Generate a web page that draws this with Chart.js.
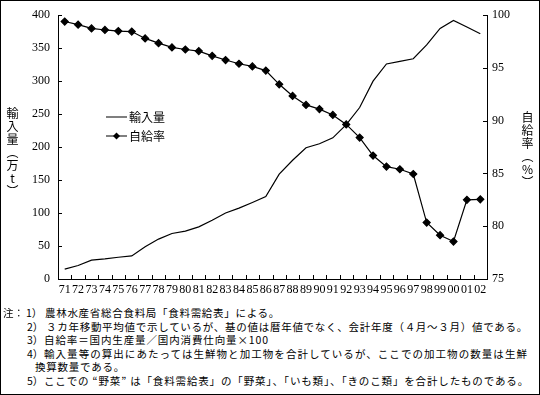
<!DOCTYPE html>
<html>
<head>
<meta charset="utf-8">
<script src="https://cdn.jsdelivr.net/npm/chart.js@4"></script>
<style>
  html, body { margin: 0; padding: 0; background: #fff; }
  #wrap { position: relative; width: 540px; height: 395px; overflow: hidden; }
  #frame { position: absolute; left: 0; top: 0; width: 540px; height: 395px; box-sizing: border-box; border: 1px solid #000; pointer-events: none; }
  canvas { position: absolute; left: 0; top: 0; }
  .vt { position: absolute; writing-mode: vertical-rl; text-orientation: upright; font: 12px "Noto Sans CJK JP"; color: #000; line-height: 1; letter-spacing: 1px; }
  .note { position: absolute; font: 10.5px "Noto Sans CJK JP"; color: #000; white-space: nowrap; line-height: 1; }
</style>
</head>
<body>
<div id="wrap">
  <canvas id="c" width="540" height="300"></canvas>
  <div class="vt" style="left:6px; top:107px;">輸入量（万t）</div>
  <div class="vt" style="left:521px; top:111px;">自給率（%）</div>

  <div class="note" style="left:3px; top:308px;">注：</div>
  <div class="note" style="left:26px; top:308px;">1）</div>
  <div class="note" data-end="280" style="left:45px; top:308px;">農林水産省総合食料局「食料需給表」による。</div>
  <div class="note" style="left:27px; top:322px;">2）</div>
  <div class="note" data-end="528" style="left:46px; top:322px;">３カ年移動平均値で示しているが、基の値は暦年値でなく、会計年度（４月～３月）値である。</div>
  <div class="note" style="left:27px; top:335px;">3）</div>
  <div class="note" data-end="269" style="left:44px; top:335px;">自給率＝国内生産量／国内消費仕向量×100</div>
  <div class="note" style="left:27px; top:349px;">4）</div>
  <div class="note" data-end="528" style="left:44px; top:349px;">輸入量等の算出にあたっては生鮮物と加工物を合計しているが、ここでの加工物の数量は生鮮</div>
  <div class="note" data-end="125" style="left:35px; top:362px;">換算数量である。</div>
  <div class="note" style="left:27px; top:376px;">5）</div>
  <div class="note" data-end="529" style="left:44px; top:376px;">ここでの “野菜” は「食料需給表」の「野菜」、「いも類」、「きのこ類」を合計したものである。</div>
  <div id="frame"></div>
</div>
<script>
// fiscal years 1971-2002, 3-year moving averages
const years = ['71','72','73','74','75','76','77','78','79','80','81','82','83','84','85','86',
               '87','88','89','90','91','92','93','94','95','96','97','98','99','00','01','02'];
// 輸入量 (万t), left axis
const imports = [15, 20.5, 28.5, 30.5, 33, 35, 49, 60.5, 69, 72.5, 79, 89, 100, 107.5, 116, 125,
                 159, 180, 199, 205, 214, 234, 260, 300, 326, 330, 334, 355, 380, 392, 382, 372];
// 自給率 (%), right axis
const selfRate = [99.4, 99.1, 98.75, 98.6, 98.5, 98.45, 97.8, 97.35, 96.95, 96.75, 96.6, 96.15, 95.75, 95.4, 95.15, 94.75,
                  93.45, 92.35, 91.5, 91.1, 90.55, 89.65, 88.4, 86.7, 85.65, 85.4, 84.95, 80.35, 79.15, 78.55, 82.5, 82.55];
const importLabel = '輸入量';
const rateLabel = '自給率';

const serif = { family: '"Liberation Serif", "DejaVu Serif", serif', size: 12 };
const jp = '12px "Noto Sans CJK JP"';

// inward tick marks: the source chart has short ticks pointing into the plot area
const innerTicks = {
    id: 'innerTicks',
    afterDraw(chart) {
        const { ctx, chartArea: a, scales } = chart;
        ctx.save();
        ctx.strokeStyle = '#000';
        ctx.lineWidth = 1;
        ctx.beginPath();
        scales.y.ticks.forEach(t => {
            const y = Math.round(scales.y.getPixelForValue(t.value)) + 0.5;
            ctx.moveTo(a.left, y); ctx.lineTo(a.left + 4, y);
        });
        scales.y2.ticks.forEach(t => {
            const y = Math.round(scales.y2.getPixelForValue(t.value)) + 0.5;
            ctx.moveTo(a.right - 4, y); ctx.lineTo(a.right, y);
        });
        const half = (scales.x.getPixelForValue(1) - scales.x.getPixelForValue(0)) / 2;
        for (let i = 0; i <= years.length; i++) {
            const x = Math.round(scales.x.getPixelForValue(i) - half) + 0.5;
            ctx.moveTo(x, a.bottom); ctx.lineTo(x, a.bottom - 4);
        }
        ctx.stroke();
        ctx.restore();
    }
};

// legend sits inside the plot, upper-left, as in the original
const innerLegend = {
    id: 'innerLegend',
    afterDraw(chart) {
        const { ctx } = chart;
        ctx.save();
        ctx.strokeStyle = '#000';
        ctx.fillStyle = '#000';
        ctx.lineWidth = 1.2;
        ctx.font = jp;
        ctx.textBaseline = 'middle';
        ctx.beginPath();
        ctx.moveTo(106, 117); ctx.lineTo(127, 117);
        ctx.moveTo(106, 136); ctx.lineTo(127, 136);
        ctx.stroke();
        ctx.beginPath();
        ctx.moveTo(116.5, 132.5); ctx.lineTo(120, 136); ctx.lineTo(116.5, 139.5); ctx.lineTo(113, 136);
        ctx.closePath();
        ctx.fill();
        ctx.fillText(importLabel, 129, 117);
        ctx.fillText(rateLabel, 129, 136);
        ctx.restore();
    }
};

function axis(extra) {
    return Object.assign({
        grid: { display: true, drawOnChartArea: false, drawTicks: false },
        border: { display: true, color: '#000', width: 1 },
        ticks: { color: '#000', font: serif },
    }, extra);
}

// the printed notes are justified, so stretch each line to its right edge
function fitNotes() {
    document.querySelectorAll('.note[data-end]').forEach(el => {
        const left = parseFloat(el.style.left);
        const w = el.getBoundingClientRect().width;
        const n = [...el.textContent].length;
        el.style.letterSpacing = ((+el.dataset.end - left - w) / n) + 'px';
    });
}

function draw() {
    fitNotes();
    new Chart(document.getElementById('c'), {
        type: 'line',
        data: {
            labels: years,
            datasets: [
                { label: importLabel, data: imports, yAxisID: 'y', borderColor: '#000', borderWidth: 1.2,
                  pointRadius: 0, tension: 0 },
                { label: rateLabel, data: selfRate, yAxisID: 'y2', borderColor: '#000', backgroundColor: '#000',
                  borderWidth: 1.2, pointStyle: 'rectRot', pointRadius: 3.5, tension: 0 },
            ],
        },
        options: {
            responsive: false,
            animation: false,
            layout: { padding: { top: 13, left: 0, right: 0, bottom: 0 } },
            plugins: { legend: { display: false }, tooltip: { enabled: false } },
            scales: {
                x: axis({
                    offset: true,
                    ticks: { color: '#000', font: serif, autoSkip: false, maxRotation: 0, padding: 4 },
                    afterFit: s => { s.height = 21; },
                }),
                y: axis({
                    position: 'left', min: 0, max: 400,
                    ticks: { color: '#000', font: serif, stepSize: 50, padding: 8 },
                    afterFit: s => { s.width = 58; },
                }),
                y2: axis({
                    position: 'right', min: 75, max: 100,
                    ticks: { color: '#000', font: serif, stepSize: 5, padding: 5 },
                    afterFit: s => { s.width = 53; },
                }),
            },
        },
        plugins: [innerTicks, innerLegend],
    });
}

Promise.all([
    document.fonts.load(jp),
    document.fonts.load('10.5px "Noto Sans CJK JP"'),
    document.fonts.load('12px "Liberation Serif"'),
]).then(draw, draw);
</script>
</body>
</html>
